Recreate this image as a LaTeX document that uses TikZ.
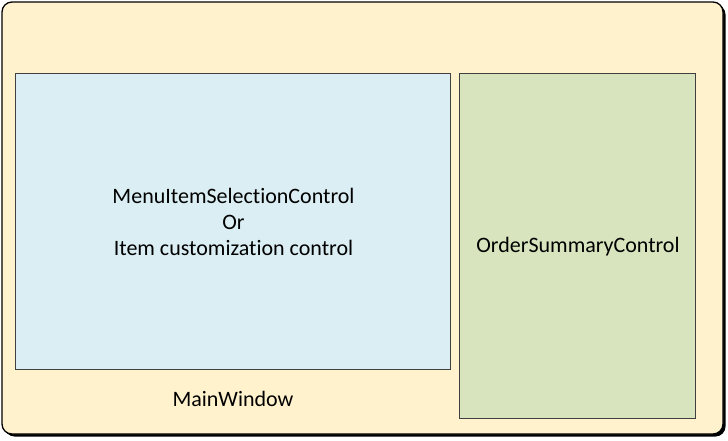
\documentclass[tikz,border=0pt]{standalone}
\usepackage{fontspec}
\setmainfont[Ligatures={NoCommon,TeX}]{Carlito}
\usetikzlibrary{shadows}
\definecolor{winyellow}{HTML}{FFF2CC}
\definecolor{ctlblue}{HTML}{DAEEF3}
\definecolor{ctlgreen}{HTML}{D7E4BD}
\definecolor{ctlborder}{HTML}{404040}
\begin{document}
\begin{tikzpicture}[x=1pt,y=-1pt,
  winbox/.style={draw=black,line width=1.3pt,fill=winyellow,rounded corners=10pt,
    drop shadow={shadow xshift=2.5pt,shadow yshift=-2.5pt,opacity=1,fill=black}},
  ctlbox/.style={draw=ctlborder,line width=0.8pt},
  lbl/.style={font=\fontsize{22}{26}\selectfont,align=center,text=black}]
\useasboundingbox (0,0) rectangle (728,440);
\path[winbox] (2,2) rectangle (723,434);
\node[ctlbox,fill=ctlblue,minimum width=435pt,minimum height=296pt,anchor=north west] (menu) at (15,73) {};
\node[ctlbox,fill=ctlgreen,minimum width=236pt,minimum height=345pt,anchor=north west] (order) at (459,73) {};
\node[lbl] (menutext) at (233.5,221.5) {MenuItemSelectionControl\\Or\\Item customization control};
\node[lbl] (ordertext) at (578,246.5) {OrderSummaryControl};
\node[lbl] (main) at (233,399) {MainWindow};
\end{tikzpicture}
\end{document}
